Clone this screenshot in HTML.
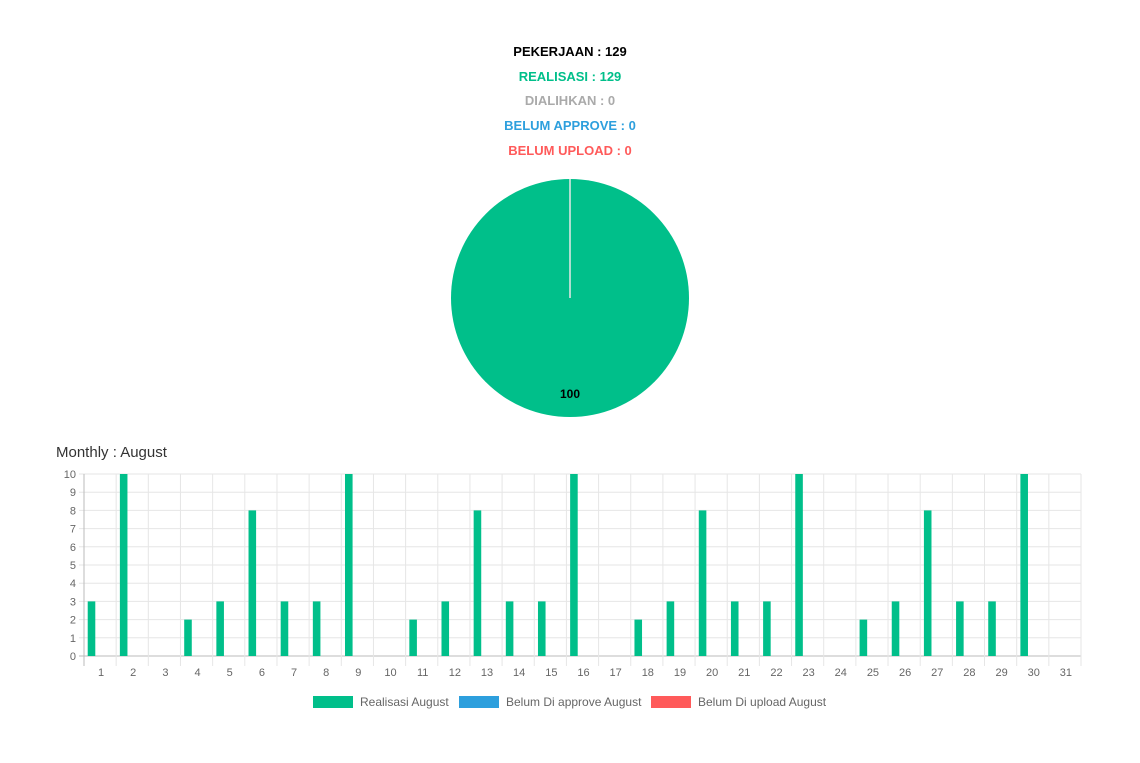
<!DOCTYPE html>
<html><head><meta charset="utf-8"><style>
body{margin:0;width:1140px;height:763px;background:#fff;font-family:"Liberation Sans",sans-serif;overflow:hidden}
.t{position:absolute;width:1140px;left:0;text-align:center;font-weight:bold;font-size:13px}
</style></head><body>
<div class="t" style="top:44px;color:#000">PEKERJAAN : 129</div>
<div class="t" style="top:69px;color:#00bf8a">REALISASI : 129</div>
<div class="t" style="top:93px;color:#aaa">DIALIHKAN : 0</div>
<div class="t" style="top:118px;color:#2d9fdd">BELUM APPROVE : 0</div>
<div class="t" style="top:143px;color:#ff5a5a">BELUM UPLOAD : 0</div>
<svg width="1140" height="763" style="position:absolute;left:0;top:0">
<g>
<circle cx="570" cy="298" r="119" fill="#00bf8a"/>
<line x1="570" y1="179" x2="570" y2="298" stroke="#e8e8e8" stroke-width="1.5"/>
<text x="570" y="398" text-anchor="middle" font-size="12" font-weight="bold" fill="#000">100</text>
</g>
<text x="56" y="457" font-size="15" fill="#333">Monthly : August</text>
<g id="bar"></g>
<g font-size="12" fill="#666">
<rect x="313" y="696" width="40" height="12" fill="#00bf8a"/>
<text x="360" y="706">Realisasi August</text>
<rect x="459" y="696" width="40" height="12" fill="#2d9fdd"/>
<text x="506" y="706">Belum Di approve August</text>
<rect x="651" y="696" width="40" height="12" fill="#ff5a5a"/>
<text x="698" y="706">Belum Di upload August</text>
</g>
</svg>
<script>
const days=[1,2,3,4,5,6,7,8,9,10,11,12,13,14,15,16,17,18,19,20,21,22,23,24,25,26,27,28,29,30,31];
const realisasi=[3,10,0,2,3,8,3,3,10,0,2,3,8,3,3,10,0,2,3,8,3,3,10,0,2,3,8,3,3,10,0];
const belumApprove=[0,0,0,0,0,0,0,0,0,0,0,0,0,0,0,0,0,0,0,0,0,0,0,0,0,0,0,0,0,0,0];
const belumUpload=[0,0,0,0,0,0,0,0,0,0,0,0,0,0,0,0,0,0,0,0,0,0,0,0,0,0,0,0,0,0,0];
const yTicks=[0,1,2,3,4,5,6,7,8,9,10];
const L=84,R=1081,T=474,B=656,yMax=10;
const cw=(R-L)/days.length;
const y=v=>B-(v/yMax)*(B-T);
const x=i=>L+i*cw;
const g=document.getElementById('bar');
const ns='http://www.w3.org/2000/svg';
function mk(t,a){const e=document.createElementNS(ns,t);for(const k in a)e.setAttribute(k,a[k]);g.appendChild(e);return e;}
yTicks.forEach(v=>{
 const l=mk('line',{x1:L-5,x2:R,y1:y(v),y2:y(v),stroke:v===0?'#bbb':'#e6e6e6'});
 
 
 const t=mk('text',{x:L-8,y:y(v)+4,'text-anchor':'end','font-size':11,fill:'#666'});
 t.textContent=v;
 
 
});
for(let i=0;i<=days.length;i++){
 const l=mk('line',{x1:x(i),x2:x(i),y1:T,y2:B+10,stroke:i===0?'#bbb':'#e6e6e6'});
 
 
}
const series=[[realisasi,'#00bf8a','bar-realisasi'],[belumApprove,'#2d9fdd','bar-belum-approve'],[belumUpload,'#ff5a5a','bar-belum-upload']];
const gw=cw*0.8,bw=gw/3;
days.forEach((d,i)=>{
 const t=mk('text',{x:x(i)+cw/2+1,y:676,'text-anchor':'middle','font-size':11,fill:'#666'});
 t.textContent=d;
 
 
 series.forEach((s,j)=>{
  const v=s[0][i];if(!v)return;
  const r=mk('rect',{x:x(i)+cw*0.1+j*bw+0.5,y:y(v),width:bw-1,height:B-y(v),fill:s[1]});
  
  
 });
});
</script>
</body></html>
